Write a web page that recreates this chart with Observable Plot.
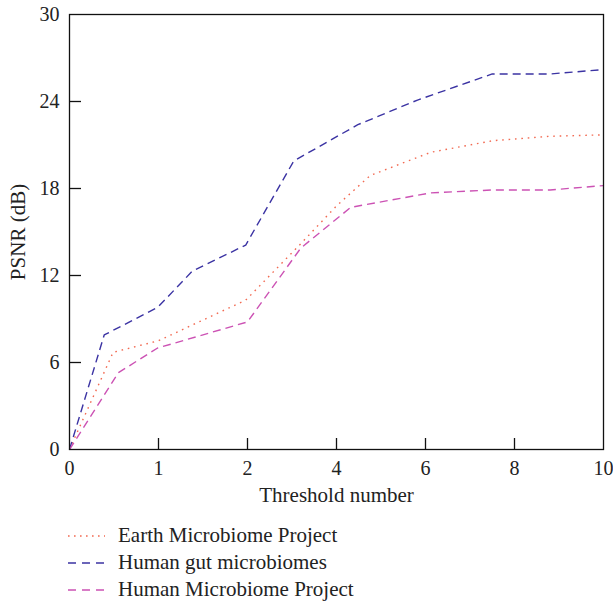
<!DOCTYPE html>
<html>
<head>
<meta charset="utf-8">
<script src="https://cdn.jsdelivr.net/npm/d3@7"></script>
<script src="https://cdn.jsdelivr.net/npm/@observablehq/plot@0.6"></script>
<style>
  body { margin: 0; background: #fff; font-family: 'Liberation Serif', serif; }
  #legend { position: absolute; left: 68px; top: 522px; font-family: 'Liberation Serif', serif; font-size: 21px; color: #222; }
  .row { display: flex; align-items: center; height: 27px; }
  .row svg { margin-right: 13px; }
</style>
</head>
<body>
<div id="chart"></div>
<div id="legend"></div>
<script>
// Tick labels of the (unevenly labelled) x axis, placed at equal spacing
const xTickLabels = ["0", "1", "2", "4", "6", "8", "10"];
const yTicks = [0, 6, 12, 18, 24, 30];

// Series: positions along the tick index axis and PSNR values
const earthX = [0, 0.49, 1.0, 1.98, 2.6, 3.0, 3.38, 4.06, 4.76, 5.4, 6];
const earthY = [0, 6.7, 7.5, 10.3, 14.2, 16.8, 18.9, 20.5, 21.3, 21.6, 21.7];

const gutX = [0, 0.39, 0.99, 1.38, 1.98, 2.52, 3.24, 3.91, 4.75, 5.4, 6];
const gutY = [0, 7.9, 9.8, 12.3, 14.1, 19.9, 22.4, 24.1, 25.9, 25.9, 26.2];

const hmpX = [0, 0.55, 0.99, 2.0, 2.6, 3.16, 4.06, 4.76, 5.4, 6];
const hmpY = [0, 5.3, 7.0, 8.8, 13.9, 16.7, 17.7, 17.9, 17.9, 18.2];

const seriesNames = ["Earth Microbiome Project", "Human gut microbiomes", "Human Microbiome Project"];
const seriesColors = ["#f26a52", "#3b33a3", "#cc52b4"];
const seriesDash = ["1.6,4.8", "8,5", "8,5"];

const toRows = (xs, ys) => xs.map((x, i) => ({x, y: ys[i]}));
const data = [toRows(earthX, earthY), toRows(gutX, gutY), toRows(hmpX, hmpY)];

const tickIdx = xTickLabels.map((_, i) => i);

const chart = Plot.plot({
  width: 613,
  height: 515,
  marginTop: 14,
  marginLeft: 69,
  marginRight: 10,
  marginBottom: 66,
  style: { fontFamily: "'Liberation Serif', serif", fontSize: "20px", color: "#222", background: "#fff" },
  x: { domain: [0, 6], ticks: tickIdx, tickFormat: i => xTickLabels[i], tickSize: 0, tickPadding: 11, label: null },
  y: { domain: [0, 30], ticks: yTicks, tickSize: 0, tickPadding: 10, label: null },
  marks: [
    // inward tick marks
    Plot.ruleX(tickIdx.slice(1, -1), { y1: 0, y2: 11 / 14.5, stroke: "#111", strokeWidth: 1.3 }),
    Plot.ruleY(yTicks.slice(1, -1), { x1: 0, x2: 12 / 89, stroke: "#111", strokeWidth: 1.3 }),
    ...data.map((d, i) => Plot.line(d, {
      x: "x", y: "y", stroke: seriesColors[i], strokeWidth: 1.4,
      strokeDasharray: seriesDash[i], strokeLinecap: "butt"
    })),
    Plot.frame({ stroke: "#111", strokeWidth: 1.3 }),
    Plot.text(["Threshold number"], { frameAnchor: "bottom", lineAnchor: "middle", textAnchor: "middle", dy: 46, fontSize: 21, fill: "#222" }),
    Plot.text(["PSNR (dB)"], { frameAnchor: "left", lineAnchor: "middle", textAnchor: "middle", dx: -51, rotate: -90, fontSize: 21, fill: "#222" })
  ]
});
document.getElementById("chart").appendChild(chart);

// Legend
const legend = document.getElementById("legend");
seriesNames.forEach((name, i) => {
  const row = document.createElement("div");
  row.className = "row";
  row.innerHTML = `<svg width="37" height="10"><line x1="0" y1="5" x2="37" y2="5" stroke="${seriesColors[i]}" stroke-width="1.4" stroke-dasharray="${i === 0 ? '1.6,4.4' : '8,6'}"/></svg><span>${name}</span>`;
  legend.appendChild(row);
});
</script>
</body>
</html>
